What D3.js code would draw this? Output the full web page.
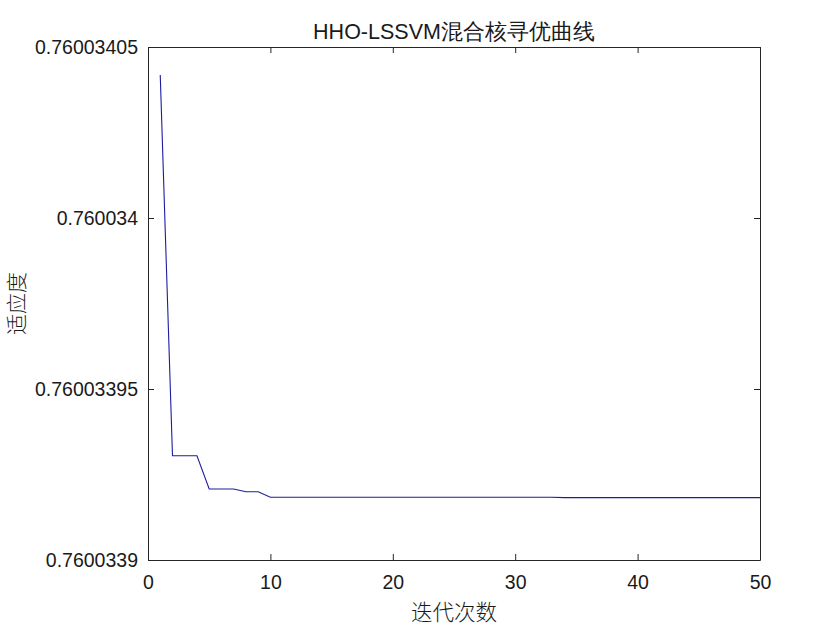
<!doctype html>
<html>
<head>
<meta charset="utf-8">
<style>
    body { margin: 0; background: #fff; }
    text { font-family: "Liberation Sans", Arial, sans-serif; fill: #1a1a1a; }
    .cjk { font-family: "Noto Sans CJK SC", sans-serif; font-weight: 300; }
</style>
<script src="https://d3js.org/d3.v7.min.js"></script>
</head>
<body>
<script>
    // iteration number and best fitness per iteration
    var iterations = d3.range(1, 51);
    var fitness = [
        0.76003404182, 0.76003393050, 0.76003393050, 0.76003393050, 0.76003392076,
        0.76003392076, 0.76003392076, 0.76003391997, 0.76003391997, 0.76003391833,
        0.76003391833, 0.76003391833, 0.76003391833, 0.76003391833, 0.76003391833,
        0.76003391833, 0.76003391833, 0.76003391833, 0.76003391833, 0.76003391833,
        0.76003391833, 0.76003391833, 0.76003391833, 0.76003391833, 0.76003391833,
        0.76003391833, 0.76003391833, 0.76003391833, 0.76003391833, 0.76003391833,
        0.76003391833, 0.76003391833, 0.76003391833, 0.76003391825, 0.76003391825,
        0.76003391825, 0.76003391825, 0.76003391825, 0.76003391825, 0.76003391825,
        0.76003391825, 0.76003391825, 0.76003391825, 0.76003391825, 0.76003391825,
        0.76003391825, 0.76003391825, 0.76003391825, 0.76003391825, 0.76003391825
    ];
    var xTicks = [0, 10, 20, 30, 40, 50];
    var yTicks = [0.7600339, 0.76003395, 0.760034, 0.76003405];
    var yTickLabels = ["0.7600339", "0.76003395", "0.760034", "0.76003405"];

    var canvasWidth = 840;
    var canvasHeight = 630;
    // plot box (note: "top" is taken by window.top)
    var plotLeft = 148, plotRight = 760, plotTop = 47, plotBottom = 560;

    var svg = d3.select("body").append("svg")
        .attr("width", canvasWidth)
        .attr("height", canvasHeight);

    var xScale = d3.scaleLinear().domain([0, 50]).range([plotLeft, plotRight]);
    var yScale = d3.scaleLinear().domain([0.7600339, 0.76003405]).range([plotBottom, plotTop]);

    var fontSize = "19.5px";

    // bottom axis, ticks point inward like matlab
    var xAxis = svg.append("g")
        .attr("transform", "translate(0," + plotBottom + ")")
        .call(d3.axisBottom(xScale).tickValues(xTicks).tickSizeInner(-6).tickSizeOuter(0).tickPadding(15));
    xAxis.selectAll("text").style("font-size", fontSize).attr("font-family", null);

    // top axis, ticks only
    svg.append("g")
        .attr("transform", "translate(0," + plotTop + ")")
        .call(d3.axisTop(xScale).tickValues(xTicks).tickSizeInner(-6).tickSizeOuter(0).tickFormat(""));

    // left axis with the odd tick labels
    var yAxis = svg.append("g")
        .attr("transform", "translate(" + plotLeft + ",0)")
        .call(d3.axisLeft(yScale).tickValues(yTicks).tickSizeInner(-6).tickSizeOuter(0).tickPadding(10)
            .tickFormat(function(d, i) { return yTickLabels[i]; }));
    yAxis.selectAll("text").style("font-size", fontSize).attr("font-family", null);

    // right axis, ticks only
    svg.append("g")
        .attr("transform", "translate(" + plotRight + ",0)")
        .call(d3.axisRight(yScale).tickValues(yTicks).tickSizeInner(-6).tickSizeOuter(0).tickFormat(""));

    svg.selectAll(".domain, .tick line").attr("stroke", "#262626");

    // fitness curve
    var line = d3.line()
        .x(function(d, i) { return xScale(iterations[i]); })
        .y(function(d) { return yScale(d); });

    svg.append("path")
        .datum(fitness)
        .attr("fill", "none")
        .attr("stroke", "#1c1ca0")
        .attr("stroke-width", 1.1)
        .attr("d", line);

    // title and labels
    svg.append("text")
        .attr("x", (plotLeft + plotRight) / 2)
        .attr("y", 39)
        .attr("text-anchor", "middle")
        .style("font-size", "21.5px")
        .text("HHO-LSSVM混合核寻优曲线");

    svg.append("text")
        .attr("class", "cjk")
        .attr("x", (plotLeft + plotRight) / 2)
        .attr("y", 620)
        .attr("text-anchor", "middle")
        .style("font-size", "21.5px")
        .text("迭代次数");

    svg.append("text")
        .attr("class", "cjk")
        .attr("transform", "translate(24," + ((plotTop + plotBottom) / 2) + ") rotate(-90)")
        .attr("text-anchor", "middle")
        .style("font-size", "21px")
        .text("适应度");
</script>
</body>
</html>
